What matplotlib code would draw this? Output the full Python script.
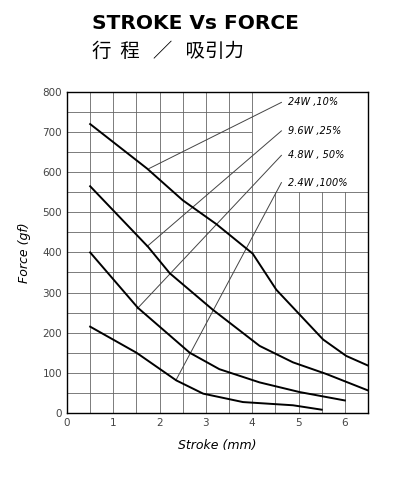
import numpy as np
import matplotlib
matplotlib.use('Agg')
import matplotlib.pyplot as plt
from matplotlib.patches import Rectangle

plt.rcParams['font.family'] = ['DejaVu Sans', 'Noto Sans CJK SC']

labels = ["24W ,10%", "9.6W ,25%", "4.8W , 50%", "2.4W ,100%"]
stroke = [
    [0.5, 1.73, 2.5, 3.22, 4.01, 4.52, 5.53, 6.03, 6.5],
    [0.5, 1.75, 2.22, 3.15, 4.16, 4.88, 5.6, 6.5],
    [0.5, 1.53, 2.65, 3.29, 4.16, 5.02, 6.0],
    [0.5, 1.5, 2.36, 2.94, 3.8, 4.88, 5.5],
]
force = [
    [720, 609, 530, 471, 397, 307, 183, 142, 118],
    [565, 414, 348, 257, 167, 126, 97, 56],
    [400, 262, 150, 109, 76, 52, 31],
    [215, 150, 81, 48, 27, 19, 8],
]
# leader line: label anchor -> point on curve
label_y = [774, 703, 642, 574]
leader_x = [1.77, 1.73, 1.51, 2.35]
leader_y = [609, 415, 259, 81]

fig = plt.figure(figsize=(4.0, 4.79), dpi=100)
ax = fig.add_axes([0.1675, 0.138, 0.7525, 0.67])
ax.set_xlim(0, 6.5)
ax.set_ylim(0, 800)

# grid every 0.5 mm / 50 gf
for gx in np.arange(0.5, 6.5, 0.5):
    ax.axvline(gx, color='#666666', lw=0.6, zorder=1)
for gy in np.arange(50, 800, 50):
    ax.axhline(gy, color='#666666', lw=0.6, zorder=1)
# blank box for labels
ax.add_patch(Rectangle((4.0, 550), 2.5, 250, facecolor='white', edgecolor='none', zorder=2))
ax.plot([4.0, 4.0], [550, 800], color='#666666', lw=0.6, zorder=2)

for xs, ys in zip(stroke, force):
    ax.plot(xs, ys, color='black', lw=1.4, zorder=4, solid_joinstyle='round')

for lab, ly, px, py in zip(labels, label_y, leader_x, leader_y):
    ax.plot([4.63, px], [ly, py], color='#444444', lw=0.7, zorder=3)
    ax.text(4.78, ly, lab, fontsize=7, style='italic', va='center', zorder=5)

ax.set_xticks(range(0, 7))
ax.set_yticks(range(0, 801, 100))
ax.tick_params(labelsize=7.5, length=0, colors='#444444')
for s in ax.spines.values():
    s.set_linewidth(1.0)
ax.set_xlabel("Stroke (mm)", fontsize=9, style='italic', labelpad=8)
ax.set_ylabel("Force (gf)", fontsize=9, style='italic', labelpad=8)

fig.text(0.23, 0.95, "STROKE Vs FORCE", fontsize=14.5, weight='bold', va='center')
fig.text(0.23, 0.893, "行  程   ／   吸引力", fontsize=14, va='center',
         family=['Noto Sans CJK SC', 'DejaVu Sans'])

fig.savefig('out.png', dpi=100, facecolor='white')
